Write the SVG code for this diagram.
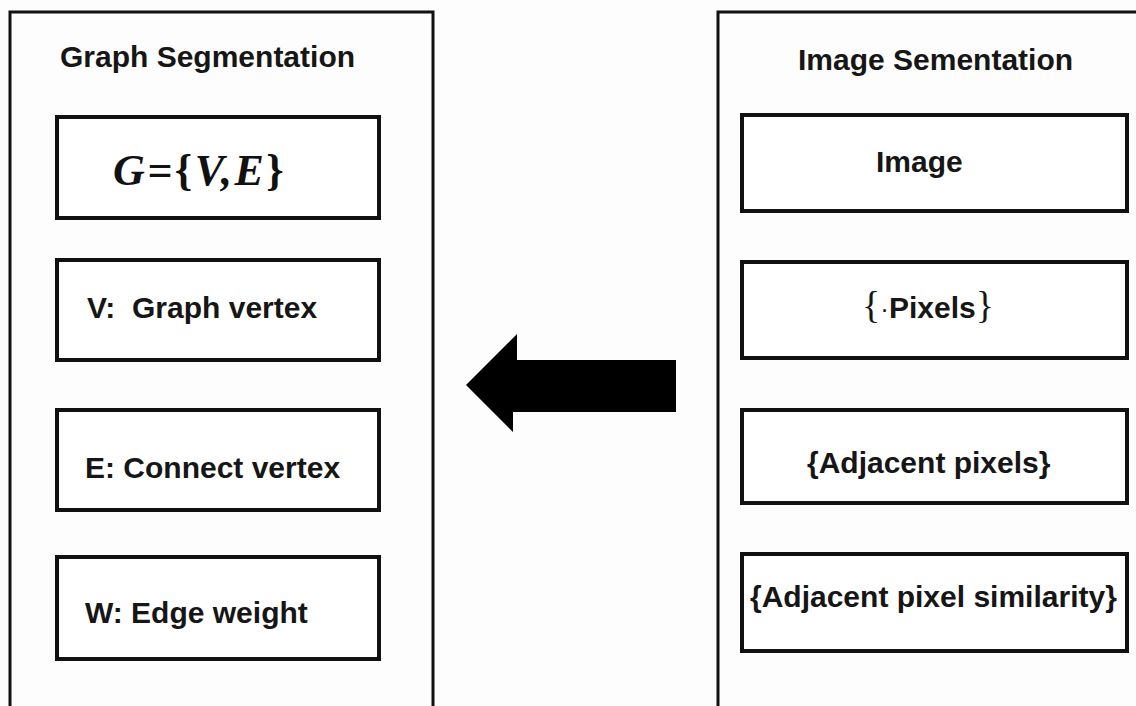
<svg xmlns="http://www.w3.org/2000/svg" width="1136" height="706" viewBox="0 0 1136 706">
  <style>
    .panel { fill: none; stroke: #111; stroke-width: 3; }
    .box { fill: #fff; stroke: #111; stroke-width: 4; }
    .lbl { font-family: "Liberation Sans", Arial, sans-serif; font-weight: bold; font-size: 30px; fill: #161616; white-space: pre; }
    .math { font-family: "Liberation Serif", "Times New Roman", serif; font-weight: bold; font-style: italic; font-size: 44px; letter-spacing: 2.5px; fill: #111; }
    .brace { font-family: "Liberation Serif", "Times New Roman", serif; font-weight: normal; font-size: 38px; }
  </style>
  <rect width="1136" height="706" fill="#fdfdfd"/>

  <!-- Left panel: graph segmentation -->
  <g id="graph-segmentation">
    <rect class="panel" x="10" y="12" width="423" height="720"/>
    <text class="lbl" x="60" y="67">Graph Segmentation</text>
  </g>
  <g id="graph-G">
    <rect class="box" x="57" y="117" width="322" height="101"/>
    <text class="math" x="113" y="185">G=<tspan font-style="normal">{</tspan>V,E<tspan font-style="normal">}</tspan></text>
  </g>
  <g id="graph-V">
    <rect class="box" x="57" y="260" width="322" height="100"/>
    <text class="lbl" x="87" y="318">V:  Graph vertex</text>
  </g>
  <g id="graph-E">
    <rect class="box" x="57" y="410" width="322" height="100"/>
    <text class="lbl" x="85" y="478" font-size="29">E: Connect vertex</text>
  </g>
  <g id="graph-W">
    <rect class="box" x="57" y="557" width="322" height="102"/>
    <text class="lbl" x="85" y="623">W: Edge weight</text>
  </g>

  <!-- Right panel: image segmentation -->
  <g id="image-segmentation">
    <rect class="panel" x="718" y="12" width="440" height="720"/>
    <text class="lbl" x="798" y="70">Image Sementation</text>
  </g>
  <g id="image-image">
    <rect class="box" x="742" y="115" width="385" height="96"/>
    <text class="lbl" x="876" y="172">Image</text>
  </g>
  <g id="image-pixels">
    <rect class="box" x="742" y="262" width="385" height="96"/>
    <text class="lbl" x="862" y="318"><tspan class="brace">{</tspan><tspan font-size="26" font-weight="normal">·</tspan>Pixels<tspan class="brace">}</tspan></text>
  </g>
  <g id="image-adjacent">
    <rect class="box" x="742" y="410" width="385" height="93"/>
    <text class="lbl" x="807" y="473">{Adjacent pixels}</text>
  </g>
  <g id="image-similarity">
    <rect class="box" x="742" y="554" width="385" height="97"/>
    <text class="lbl" x="750" y="607">{Adjacent pixel similarity}</text>
  </g>

  <!-- Mapping arrow from image domain to graph domain -->
  <g id="connectors">
    <polygon points="676,360 517,360 517,334 466,385 513,432 513,412 676,412" fill="#000"/>
  </g>
</svg>
